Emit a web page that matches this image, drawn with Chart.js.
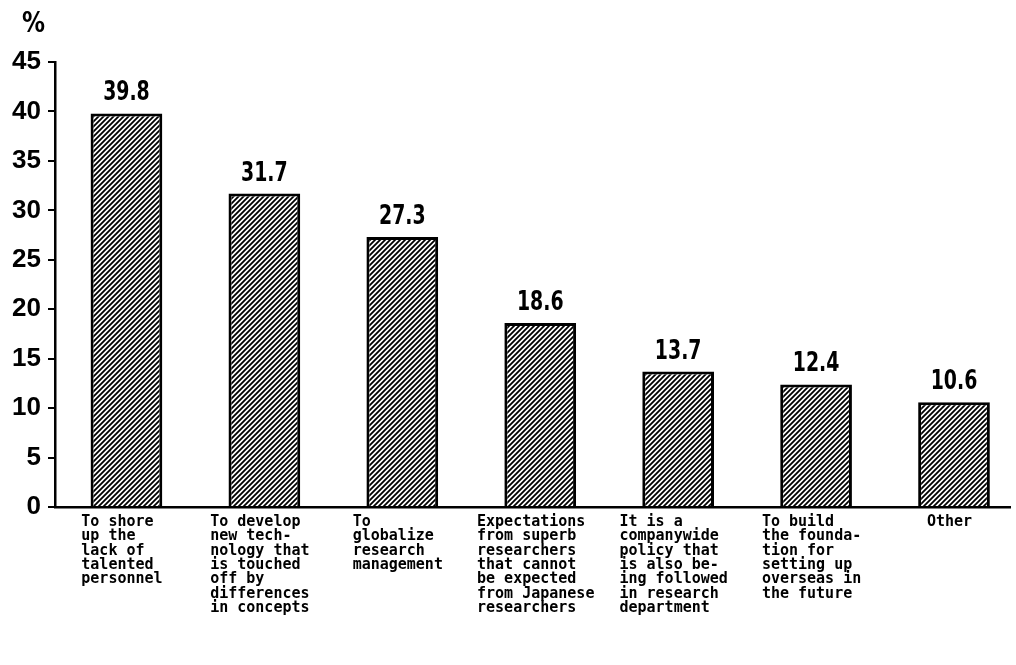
<!DOCTYPE html>
<html>
<head>
<meta charset="utf-8">
<script src="https://cdn.jsdelivr.net/npm/chart.js@4.4.1/dist/chart.umd.min.js"></script>
<style>
  html, body { margin: 0; padding: 0; background: #ffffff; }
  #wrap { width: 1016px; height: 665px; position: relative; }
</style>
</head>
<body>
<div id="wrap"><canvas id="c"></canvas></div>
<script>
// ---- data ----
const categoryLines = [
  ["To shore", "up the", "lack of", "talented", "personnel"],
  ["To develop", "new tech-", "nology that", "is touched", "off by", "differences", "in concepts"],
  ["To", "globalize", "research", "management"],
  ["Expectations", "from superb", "researchers", "that cannot", "be expected", "from Japanese", "researchers"],
  ["It is a", "companywide", "policy that", "is also be-", "ing followed", "in research", "department"],
  ["To build", "the founda-", "tion for", "setting up", "overseas in", "the future"],
  ["Other"]
];
const values = [39.8, 31.7, 27.3, 18.6, 13.7, 12.4, 10.6];
const yMin = 0;
const yMax = 45;
const yStep = 5;
const unitLabel = "%";

// ---- hatch pattern ----
function makeHatch() {
  const s = 5;
  const c = document.createElement('canvas');
  c.width = s; c.height = s;
  const g = c.getContext('2d');
  g.fillStyle = '#ffffff';
  g.fillRect(0, 0, s, s);
  g.strokeStyle = '#000000';
  g.lineWidth = 1.8;
  g.beginPath();
  g.moveTo(-1, s + 1); g.lineTo(s + 1, -1);
  g.moveTo(-1, 1); g.lineTo(1, -1);
  g.moveTo(s - 1, s + 1); g.lineTo(s + 1, s - 1);
  g.stroke();
  return g.createPattern(c, 'repeat');
}

function padLines(lines) {
  const n = Math.max(...lines.map(l => l.length)) + 1;
  return lines.map(l => l.padEnd(n, ' '));
}

const valueLabels = {
  id: 'valueLabels',
  afterDatasetsDraw(chart) {
    const ctx = chart.ctx;
    const meta = chart.getDatasetMeta(0);
    ctx.save();
    ctx.fillStyle = '#000';
    ctx.textAlign = 'center';
    ctx.textBaseline = 'middle';
    ctx.font = 'bold 27px "DejaVu Sans", sans-serif';
    meta.data.forEach((el, i) => {
      ctx.save();
      ctx.translate(el.x, el.y - 20);
      ctx.scale(0.7, 1);
      ctx.fillText(values[i].toFixed(1), 0, 0);
      ctx.restore();
    });
    ctx.restore();
  }
};

const unitPlugin = {
  id: 'unitText',
  afterDraw(chart) {
    const ctx = chart.ctx;
    ctx.save();
    ctx.fillStyle = '#000';
    ctx.textAlign = 'left';
    ctx.textBaseline = 'top';
    ctx.font = 'bold 28px "DejaVu Sans", sans-serif';
    ctx.translate(22, 11);
    ctx.scale(0.82, 1);
    ctx.fillText(unitLabel, 0, 0);
    ctx.restore();
  }
};

Chart.defaults.color = '#000';

new Chart(document.getElementById('c'), {
  type: 'bar',
  data: {
    datasets: [{
      data: values.map((v, i) => ({ x: i, y: v })),
      backgroundColor: makeHatch(),
      borderColor: '#000',
      borderWidth: 3,
      categoryPercentage: 1,
      barPercentage: 0.52
    }]
  },
  options: {
    responsive: true,
    maintainAspectRatio: false,
    animation: false,
    layout: { padding: { top: 62, right: 6, left: 0, bottom: 0 } },
    plugins: { legend: { display: false }, tooltip: { enabled: false }, title: { display: false } },
    scales: {
      x: {
        type: 'linear',
        offset: false,
        min: -0.518,
        max: 6.406,
        afterBuildTicks(s) { s.ticks = categoryLines.map((_, i) => ({ value: i })); },
        afterFit(s) { s.height = 158; },
        grid: { display: false, drawTicks: false },
        border: { display: true, color: '#000', width: 2.5 },
        ticks: {
          autoSkip: false,
          maxRotation: 0,
          minRotation: 0,
          padding: 8,
          color: '#000',
          font: { family: '"DejaVu Sans Mono", "Liberation Mono", monospace', size: 15, weight: 'bold', lineHeight: '14.3px' },
          callback: (v) => padLines(categoryLines[v] || [""])
        }
      },
      y: {
        min: yMin,
        max: yMax,
        afterFit(s) { s.width = 55; },
        grid: { display: true, drawOnChartArea: false, drawTicks: true, tickLength: 7, color: '#000', lineWidth: 2 },
        border: { display: true, color: '#000', width: 2.5 },
        ticks: {
          stepSize: yStep,
          padding: 7,
          color: '#000',
          font: { family: '"Liberation Sans", Arial, sans-serif', size: 26, weight: 'bold' }
        }
      }
    }
  },
  plugins: [valueLabels, unitPlugin]
});
</script>
</body>
</html>
